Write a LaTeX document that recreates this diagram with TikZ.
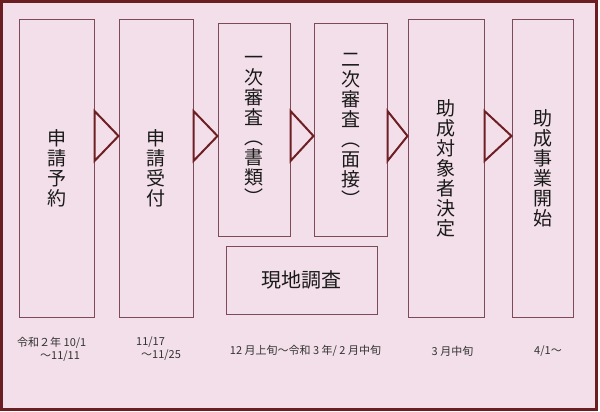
\documentclass[tikz,border=0pt]{standalone}
\usepackage{fontspec}
\setmainfont{Noto Sans CJK JP}
\usetikzlibrary{calc}
\definecolor{cframe}{HTML}{6B1E22}
\definecolor{cpaper}{HTML}{F3DFE9}
\definecolor{cbox}{HTML}{7D4A58}
\definecolor{carrow}{HTML}{6E1F26}
\definecolor{cink}{HTML}{1A1A1A}
\definecolor{cdate}{HTML}{333333}

\begin{document}
\begin{tikzpicture}[x=1pt, y=-1pt,
    stage/.style={draw=cbox, line width=1pt, fill=cpaper, inner sep=0pt, align=center,
                  text=cink, font=\fontsize{19}{20}\selectfont},
    tall/.style={stage, minimum height=297pt},
    mid/.style={stage, minimum height=212pt},
    tri/.style={draw=carrow, line width=2pt, line join=miter},
    when/.style={font=\fontsize{11}{13}\selectfont, text=cdate, inner sep=0pt},
  ]
  % page and frame, same size as the reference
  \path[use as bounding box] (0,0) rectangle (600,412);
  \draw[line width=3pt, draw=cframe, fill=cpaper] (1.5,1.5) rectangle (596,409.5);
  % == the six stages
  \node[tall, minimum width=75pt] (p1) at (56.5,168.5) {申\\請\\予\\約};
  \node[tall, minimum width=74pt] (p2) at (156,168.5) {申\\請\\受\\付};
  \node[mid, minimum width=72pt] (p3) at (254,130) {一\\次\\審\\査\\︵\\書\\類\\︶};
  \node[mid, minimum width=73pt] (p4) at (350.5,130) {二\\次\\審\\査\\︵\\面\\接\\︶};
  \node[tall, minimum width=76pt] (p5) at (446,168.5) {助\\成\\対\\象\\者\\決\\定};
  \node[tall, minimum width=61pt] (p6) at (542.5,168.5) {助\\成\\事\\業\\開\\始};
  % site visit under the two reviews
  \node[stage, minimum width=151pt, minimum height=68pt, font=\fontsize{20}{22}\selectfont]
    (site) at (301.5,280) {現地調査};
  % open triangles between the stages
  \foreach \a/\b in {p1/p2, p2/p3, p3/p4, p4/p5, p5/p6}
    \draw[tri] (\a.east |- 0,111) -- (\b.west |- 0,136) -- (\a.east |- 0,161) -- cycle;
  % == dates
  \node[when, align=left, anchor=north west] (d1) at (17,337)
    {令和２年 10/1\\\hspace*{23pt}～11/11};
  \node[when, align=left, anchor=north west] (d2) at (136,337)
    {11/17\\\hspace*{5pt}～11/25};
  \node[when] (d3) at (305.5,351) {12 月上旬～令和 3 年/ 2 月中旬};
  \node[when] (d4) at (452.5,351) {3 月中旬};
  \node[when] (d5) at (548,351) {4/1～};
\end{tikzpicture}
\end{document}
